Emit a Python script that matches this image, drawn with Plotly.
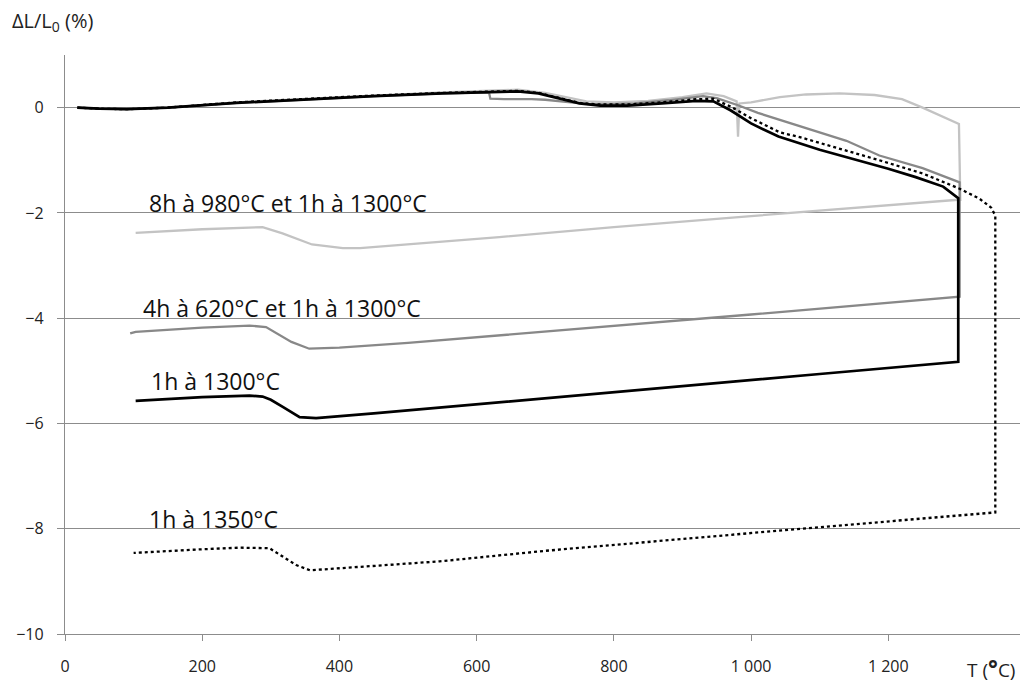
import plotly.graph_objects as go

# ---- data (temperature °C, dL/L0 %) ----
# 1h à 1300°C (black solid)
t_1300 = [18, 50, 90, 150, 250, 350, 450, 550, 620, 660, 690, 720, 750, 780, 820, 870, 920, 945, 970, 1000,
          1040, 1100, 1140, 1200, 1240, 1280, 1302,
          1302, 1100, 900, 700, 546, 450, 366, 342, 318, 300, 288, 269, 200, 103]
d_1300 = [0, -0.02, -0.03, 0.0, 0.09, 0.16, 0.22, 0.27, 0.30, 0.31, 0.27, 0.17, 0.08, 0.04, 0.04, 0.08, 0.13, 0.12, -0.05, -0.30,
          -0.55, -0.80, -0.94, -1.16, -1.32, -1.50, -1.72,
          -4.83, -5.06, -5.29, -5.52, -5.71, -5.81, -5.90, -5.88, -5.69, -5.55, -5.49, -5.47, -5.50, -5.57]

# 4h à 620°C et 1h à 1300°C (medium grey)
t_620 = [18, 50, 90, 150, 250, 350, 450, 550, 618, 620, 640, 680, 700, 730, 760, 790, 830, 880, 930, 950, 980, 1010,
         1042, 1080, 1139, 1187, 1250, 1304,
         1304, 1000, 800, 633, 500, 400, 356, 330, 310, 293, 269, 200, 103, 95]
d_620 = [0, -0.02, -0.03, 0.0, 0.09, 0.16, 0.22, 0.27, 0.29, 0.17, 0.16, 0.16, 0.15, 0.11, 0.07, 0.06, 0.08, 0.14, 0.22, 0.18, 0.05, -0.10,
         -0.23, -0.39, -0.63, -0.91, -1.15, -1.42,
         -3.59, -3.93, -4.15, -4.33, -4.47, -4.56, -4.58, -4.45, -4.30, -4.17, -4.14, -4.18, -4.26, -4.29]

# 8h à 980°C et 1h à 1300°C (light grey)
t_980 = [18, 50, 90, 150, 250, 350, 450, 550, 620, 660, 700, 730, 760, 800, 850, 900, 935, 960, 979, 981, 983, 1000,
         1042, 1080, 1129, 1180, 1220, 1250, 1280, 1303, 1305,
         1302, 1000, 800, 633, 500, 430, 405, 360, 317, 288, 200, 103]
d_980 = [0, -0.02, -0.03, 0.0, 0.10, 0.17, 0.23, 0.29, 0.33, 0.34, 0.28, 0.20, 0.12, 0.10, 0.13, 0.20, 0.27, 0.22, 0.12, -0.55, 0.08, 0.10,
         0.20, 0.25, 0.27, 0.24, 0.16, 0.0, -0.17, -0.31, -1.75,
         -1.75, -2.06, -2.27, -2.46, -2.60, -2.67, -2.67, -2.60, -2.39, -2.27, -2.31, -2.38]

# 1h à 1350°C (black dotted)
t_1350 = [18, 50, 90, 150, 250, 350, 450, 550, 620, 660, 690, 720, 750, 780, 820, 870, 920, 945, 970, 1000,
          1042, 1071, 1140, 1187, 1250, 1304, 1333, 1350, 1356,
          1356, 1100, 900, 700, 546, 400, 357, 337, 315, 298, 254, 200, 100]
d_1350 = [0, -0.02, -0.03, 0.0, 0.10, 0.17, 0.23, 0.28, 0.31, 0.32, 0.28, 0.18, 0.09, 0.06, 0.06, 0.10, 0.16, 0.17, 0.02, -0.20,
          -0.47, -0.56, -0.82, -1.00, -1.25, -1.54, -1.73, -1.90, -2.05,
          -7.69, -7.97, -8.19, -8.42, -8.62, -8.76, -8.79, -8.69, -8.50, -8.37, -8.36, -8.39, -8.46]

labels = ["8h à 980°C et 1h à 1300°C", "4h à 620°C et 1h à 1300°C", "1h à 1300°C", "1h à 1350°C"]
label_x = [119, 111, 123, 119]
label_y = [-1.82, -3.8, -5.2, -7.82]

x_ticks = [0, 200, 400, 600, 800, 1000, 1200]
x_ticktext = ["0", "200", "400", "600", "800", "1 000", "1 200"]
y_ticks = [0, -2, -4, -6, -8, -10]

FONT = "Open Sans, sans-serif"
GRID = "#8c8c8c"

fig = go.Figure()
fig.add_trace(go.Scatter(x=t_980, y=d_980, mode="lines", line=dict(color="#c3c3c3", width=2.3), name=labels[0]))
fig.add_trace(go.Scatter(x=t_620, y=d_620, mode="lines", line=dict(color="#888888", width=2.3), name=labels[1]))
fig.add_trace(go.Scatter(x=t_1350, y=d_1350, mode="lines", line=dict(color="#000000", width=2.3, dash="dot"), name=labels[3]))
fig.add_trace(go.Scatter(x=t_1300, y=d_1300, mode="lines", line=dict(color="#000000", width=2.7), name=labels[2]))

for txt, lx, ly in zip(labels, label_x, label_y):
    fig.add_annotation(x=lx, y=ly, text=txt, showarrow=False, xanchor="left", yanchor="middle",
                       font=dict(family=FONT, size=23, color="#111"))

fig.add_annotation(xref="paper", yref="paper", x=-0.058, y=1.057, text="ΔL/L<sub>0</sub> (%)",
                   showarrow=False, xanchor="left", yanchor="middle", font=dict(family=FONT, size=20, color="#222"))
fig.add_annotation(xref="x", yref="paper", x=1350, y=-0.059,
                   text="T (<span style='font-size:23px'><b>°</b></span>C)",
                   showarrow=False, xanchor="center", yanchor="middle", font=dict(family=FONT, size=19, color="#222"))

fig.update_layout(
    width=1025, height=684,
    margin=dict(l=65, r=5, t=55, b=50),
    paper_bgcolor="white", plot_bgcolor="white",
    showlegend=False,
    font=dict(family=FONT, size=16, color="#222"),
)
fig.update_xaxes(range=[0, 1392], tickvals=x_ticks, ticktext=x_ticktext, showgrid=False, zeroline=False,
                 showline=True, linecolor=GRID, linewidth=1.3, ticks="outside", ticklen=6, tickcolor=GRID,
                 ticklabelstandoff=12, tickfont=dict(size=16), automargin=False)
fig.update_yaxes(range=[-10, 1], tickvals=y_ticks, showgrid=True, gridcolor=GRID, gridwidth=1.2, zeroline=False,
                 showline=True, linecolor=GRID, linewidth=1.3, ticks="outside", ticklen=7, tickcolor=GRID,
                 ticklabelstandoff=10, tickfont=dict(size=16), automargin=False)

fig.write_html("out.html", config={"displayModeBar": False},
               post_script="document.body.style.margin='0px'; document.body.style.overflow='hidden';")
